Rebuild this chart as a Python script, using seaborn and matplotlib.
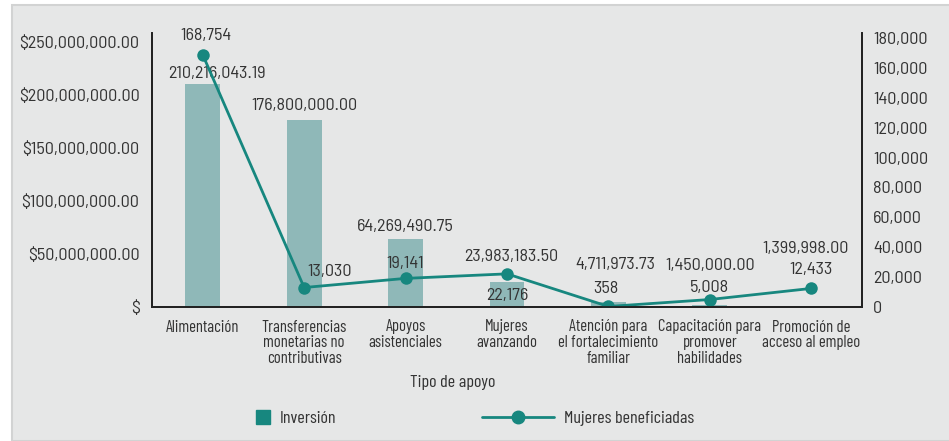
import numpy as np
import matplotlib
matplotlib.use("Agg")
import matplotlib.pyplot as plt
from matplotlib.ticker import FuncFormatter
from matplotlib.lines import Line2D
from matplotlib.patches import Rectangle
import seaborn as sns

# data
categorias = [
    "Alimentación",
    "Transferencias\nmonetarias no\ncontributivas",
    "Apoyos\nasistenciales",
    "Mujeres\navanzando",
    "Atención para\nel fortalecimiento\nfamiliar",
    "Capacitación para\npromover\nhabilidades",
    "Promoción de\nacceso al empleo",
]
inversion = [210216043.19, 176800000.00, 64269490.75, 23983183.50,
             4711973.73, 1450000.00, 1399998.00]
mujeres = [168754, 13030, 19141, 22176, 358, 5008, 12433]

# label nudges (pixels) to mimic the hand-placed data labels
bar_offsets = [(14, 11), (0, 14), (0, 12), (4, 25), (7, 38), (0, 40), (-6, 57)]
line_offsets = [(3, 19), (25, 16), (0, 15), (0, -22), (-3, 18), (0, 12), (0, 19)]

BG = "#e6e7e7"
BAR = "#8fb8b8"
TEAL = "#17877f"
TXT = "#333333"
FS = 13
NARROW = ["Barlow Condensed", "Archivo Narrow", "Liberation Sans", "DejaVu Sans"]

sns.set_style("white")
plt.rcParams["font.family"] = ["Barlow Semi Condensed", "Archivo Narrow", "Liberation Sans", "DejaVu Sans"]
plt.rcParams["font.size"] = FS
plt.rcParams["text.color"] = TXT

fig = plt.figure(figsize=(9.49, 4.41), dpi=100, facecolor="white")
fig.patches.append(Rectangle((12 / 949, 0), 1, 1 - 5 / 441, transform=fig.transFigure,
                             facecolor=BG, edgecolor="#d2d3d3", linewidth=1.5, zorder=-10))

ax = fig.add_axes([152 / 949, 1 - 307 / 441, 710 / 949, 274 / 441])
ax.set_facecolor("none")
x = np.arange(len(categorias))

sns.barplot(x=x, y=inversion, color=BAR, saturation=1, width=0.345,
            linewidth=0, ax=ax)
ax.set_ylim(0, 258.5e6)
ax.set_yticks(np.arange(0, 250e6 + 1, 50e6))
ax.yaxis.set_major_formatter(FuncFormatter(lambda v, p: "$" if v == 0 else f"${v:,.2f}"))
ax.set_xticks(x)
ax.set_xticklabels(categorias, linespacing=1.05, family=NARROW, fontsize=12)
ax.set_xlim(-0.5, len(categorias) - 0.5)
ax.tick_params(length=0, labelcolor=TXT)
ax.tick_params(axis="y", labelsize=FS, pad=9)
ax.tick_params(axis="x", pad=9)
ax.set_xlabel("")

for i, v in enumerate(inversion):
    dx, dy = bar_offsets[i]
    ax.annotate(f"{v:,.2f}", (i, v), xytext=(dx, dy), textcoords="offset pixels",
                ha="center", va="center", fontsize=FS, color=TXT)

ax2 = ax.twinx()
sns.lineplot(x=x, y=mujeres, color=TEAL, marker="o", markersize=9,
             markeredgewidth=0, linewidth=2, ax=ax2)
ax2.set_ylim(0, 183300)
ax2.set_yticks(np.arange(0, 180001, 20000))
ax2.yaxis.set_major_formatter(FuncFormatter(lambda v, p: f"{v:,.0f}"))
ax2.tick_params(length=0, labelsize=FS, labelcolor=TXT, pad=8)
ax2.set_xlim(-0.5, len(categorias) - 0.5)

for i, v in enumerate(mujeres):
    dx, dy = line_offsets[i]
    ax2.annotate(f"{v:,}", (i, v), xytext=(dx, dy), textcoords="offset pixels",
                 ha="center", va="center", fontsize=FS, color=TXT)

for a in (ax, ax2):
    a.spines["top"].set_visible(False)
    for s in ("left", "right", "bottom"):
        a.spines[s].set_color("#222222")
        a.spines[s].set_linewidth(1.3)

fig.text(453 / 949, 1 - 382 / 441, "Tipo de apoyo", ha="center", va="center",
         fontsize=13, family=NARROW, color=TXT)

h1 = Line2D([], [], linestyle="none", marker="s", markersize=10, color=TEAL)
h2 = Line2D([], [], color=TEAL, marker="o", markersize=9, linewidth=2)
fig.legend([h1], ["Inversión"], loc="center left",
           bbox_to_anchor=(238 / 949, 1 - 418 / 441), frameon=False,
           handlelength=1, handletextpad=0.4, prop={"family": NARROW, "size": 13})
fig.legend([h2], ["Mujeres beneficiadas"], loc="center left",
           bbox_to_anchor=(466 / 949, 1 - 418 / 441), frameon=False,
           handlelength=4.0, handletextpad=0.5, prop={"family": NARROW, "size": 13})

fig.savefig("out.png", dpi=100, facecolor=fig.get_facecolor())
